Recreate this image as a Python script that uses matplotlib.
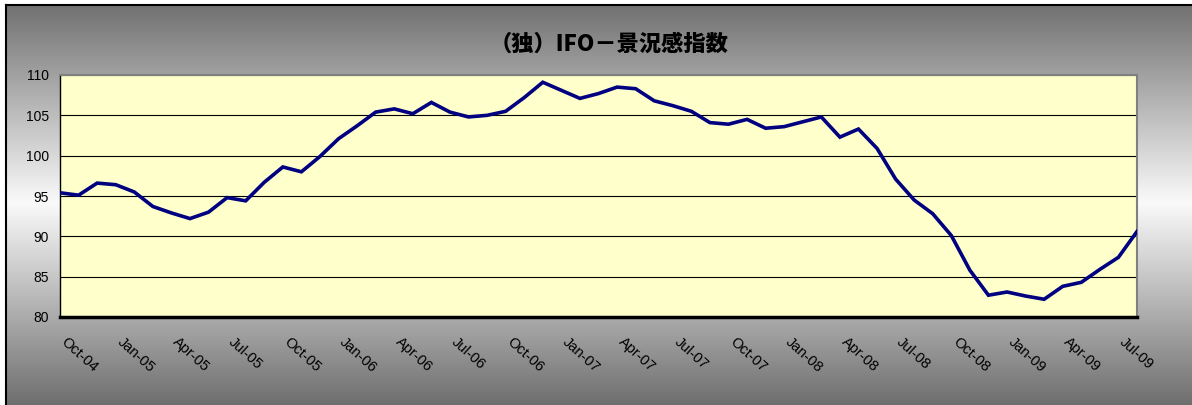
#IFO business climate chart

#Importing Libarary
import numpy as np
import matplotlib
matplotlib.use("Agg")
import matplotlib.pyplot as plt
import matplotlib.transforms as mtransforms

#Data (monthly, Oct-04 .. Aug-09)
months = ["Oct-04", "Nov-04", "Dec-04", "Jan-05", "Feb-05", "Mar-05", "Apr-05", "May-05", "Jun-05",
          "Jul-05", "Aug-05", "Sep-05", "Oct-05", "Nov-05", "Dec-05", "Jan-06", "Feb-06", "Mar-06",
          "Apr-06", "May-06", "Jun-06", "Jul-06", "Aug-06", "Sep-06", "Oct-06", "Nov-06", "Dec-06",
          "Jan-07", "Feb-07", "Mar-07", "Apr-07", "May-07", "Jun-07", "Jul-07", "Aug-07", "Sep-07",
          "Oct-07", "Nov-07", "Dec-07", "Jan-08", "Feb-08", "Mar-08", "Apr-08", "May-08", "Jun-08",
          "Jul-08", "Aug-08", "Sep-08", "Oct-08", "Nov-08", "Dec-08", "Jan-09", "Feb-09", "Mar-09",
          "Apr-09", "May-09", "Jun-09", "Jul-09", "Aug-09"]
ifo = [95.4, 95.1, 96.6, 96.4, 95.5, 93.7, 92.9, 92.2, 93.0,
       94.8, 94.4, 96.7, 98.6, 98.0, 99.9, 102.1, 103.7, 105.4,
       105.8, 105.2, 106.6, 105.4, 104.8, 105.0, 105.5, 107.2, 109.1,
       108.1, 107.1, 107.7, 108.5, 108.3, 106.8, 106.2, 105.5, 104.1,
       103.9, 104.5, 103.4, 103.6, 104.2, 104.8, 102.3, 103.3, 100.9,
       97.1, 94.5, 92.8, 90.1, 85.8, 82.7, 83.1, 82.6, 82.2,
       83.8, 84.3, 85.9, 87.4, 90.6]
yticks = [80, 85, 90, 95, 100, 105, 110]

W, H = 1192, 405
fig = plt.figure(figsize=(W / 100, H / 100), dpi=100)
fig.patch.set_facecolor("white")

#Background gradient (dark - light - dark) with black frame
bg = fig.add_axes([0, 0, 1, 1])
bg.axis("off")
yy = np.linspace(5, H + 15, 400)
shade = 250 - np.abs(yy - 203) / 200.0 * 138
shade = np.clip(shade, 0, 255) / 255.0
grad = np.dstack([shade, shade, shade]).reshape(-1, 1, 3)
bg.imshow(grad, extent=(6, W + 10, H + 15, 5), aspect="auto", interpolation="bilinear")
bg.plot([6, 6], [5, H + 10], color="black", lw=1.5)
bg.plot([6, W + 10], [5, 5], color="black", lw=1.5)
bg.set_xlim(0, W)
bg.set_ylim(H, 0)

#Title
fig.text(609 / W, 1 - 44 / H, "（独）IFO－景況感指数", ha="center", va="center",
         fontsize=16, fontweight="heavy", family=["Noto Sans CJK JP", "DejaVu Sans"])

#Plot area
ax = fig.add_axes([60 / W, (H - 317) / H, (1137 - 60) / W, (317 - 75) / H])
ax.set_facecolor("#FFFFCC")
x = np.arange(len(ifo))
ax.plot(x, ifo, color="#000080", lw=2.6, solid_joinstyle="miter", zorder=3)
ax.set_xlim(0, len(ifo) - 1)
ax.set_ylim(80, 110)
ax.set_yticks(yticks)
ax.yaxis.grid(True, color="black", lw=0.8)
ax.set_axisbelow(True)
ax.tick_params(axis="y", length=0, pad=8, labelsize=10)

tick_pos = x[::3]
ax.set_xticks(tick_pos)
ax.set_xticklabels([months[i] for i in tick_pos], rotation=-42, ha="left", va="top",
                   rotation_mode="anchor", fontsize=10.5)
ax.tick_params(axis="x", length=0, pad=13)
shift = mtransforms.ScaledTranslation(8 / 100, 0, fig.dpi_scale_trans)
for lbl in ax.get_xticklabels():
    lbl.set_transform(lbl.get_transform() + shift)
for lbl in ax.get_xticklabels() + ax.get_yticklabels():
    lbl.set_family(["Liberation Sans", "DejaVu Sans"])

ax.spines["left"].set_color("black")
ax.spines["left"].set_linewidth(1.0)
ax.spines["bottom"].set_color("black")
ax.spines["bottom"].set_linewidth(2.5)
ax.spines["top"].set_color("#808080")
ax.spines["top"].set_linewidth(1.5)
ax.spines["right"].set_color("#808080")
ax.spines["right"].set_linewidth(1.5)

plt.savefig("out.png", dpi=100)
